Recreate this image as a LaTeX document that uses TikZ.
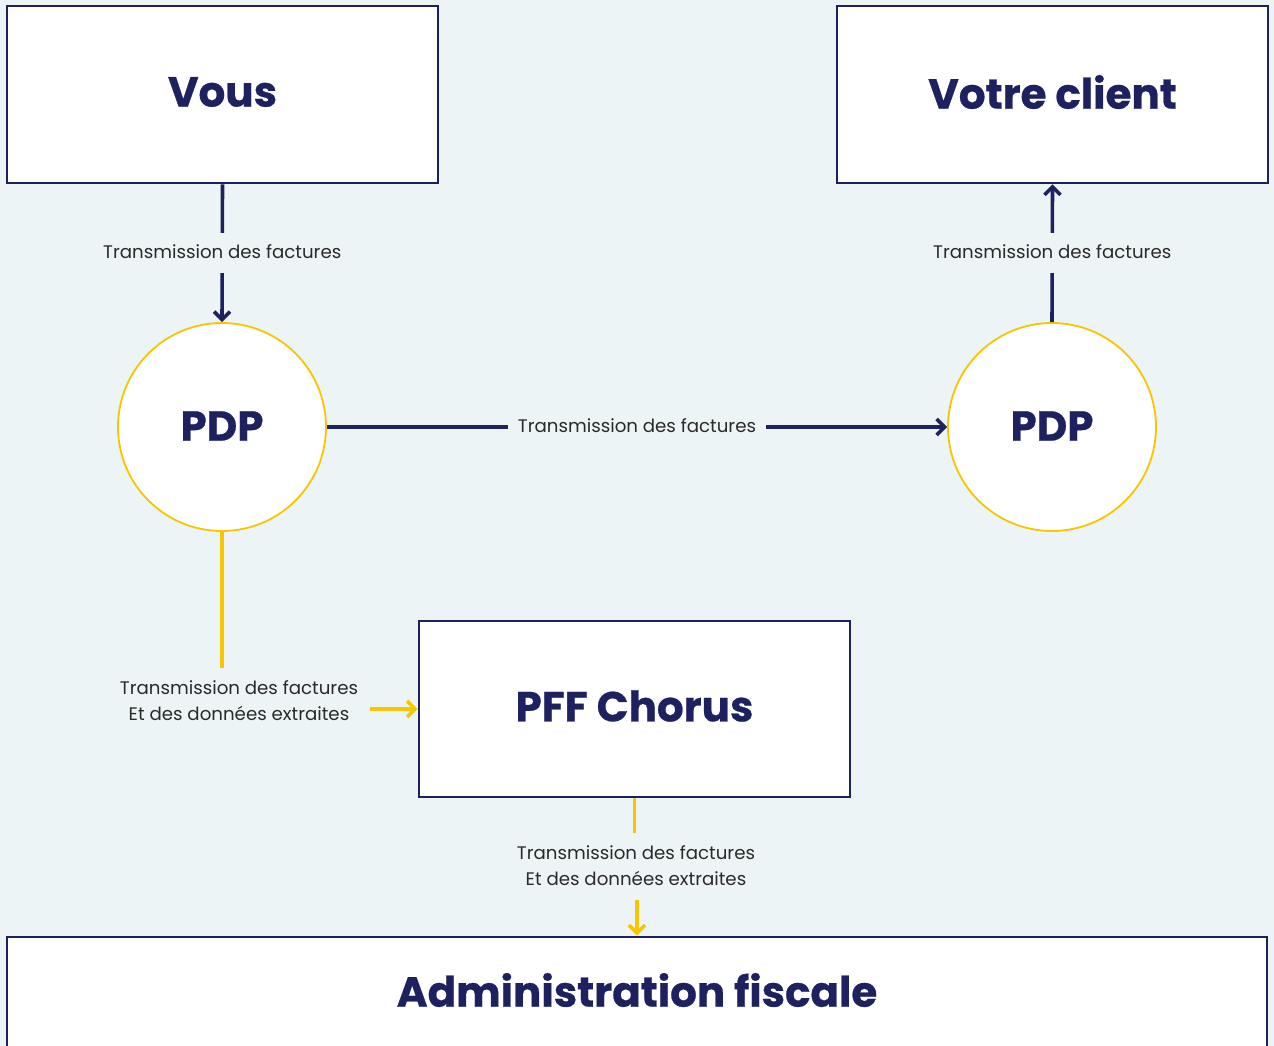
\documentclass[tikz,border=0pt]{standalone}
\usepackage{fontspec}
\setmainfont{Poppins}
\newfontfamily\ttlfont{Poppins}[BoldFeatures={FakeBold=0.6}]
\usetikzlibrary{arrows.meta}
\definecolor{bg}{HTML}{ECF4F6}
\definecolor{navy}{HTML}{1E2160}
\definecolor{gold}{HTML}{F7C600}
\definecolor{txt}{HTML}{2A2A2A}
\begin{document}
\begin{tikzpicture}[x=1pt,y=-1pt,
  box/.style={draw=navy,line width=2.7pt,fill=white,inner sep=0pt,minimum width=431pt,minimum height=177pt},
  circ/.style={circle,draw=gold,line width=1.8pt,fill=white,inner sep=0pt,minimum size=208pt},
  ttl/.style={text=navy,font=\ttlfont\fontsize{42}{46}\selectfont\bfseries},
  lbl/.style={fill=bg,text=txt,font=\fontsize{18.2}{26}\selectfont,inner xsep=10pt,inner ysep=12pt,text height=13pt,text depth=3pt},
  lbltwo/.style={text=txt,font=\fontsize{18.2}{26}\selectfont,align=center,inner sep=0pt},
  navyline/.style={draw=navy,line width=3.6pt},
  goldline/.style={draw=gold,line width=3.6pt},
  tip/.style={-{Straight Barb[length=8pt,width=16pt]}}
]
\useasboundingbox (0,0) rectangle (1274,1046);
\clip (0,0) rectangle (1274,1046);
\fill[bg] (0,0) rectangle (1274,1046);

\node[box] (vous) at (222.5,94.5) {};
\node[ttl] (vouslbl) at (222.5,92) {Vous};
\node[box] (client) at (1052.5,94.5) {};
\node[ttl] (clientlbl) at (1052.5,92) {Votre client};

\node[circ] (pdpL) at (222,427) {};
\node[ttl] (pdpLlbl) at (222,426) {PDP};
\node[circ] (pdpR) at (1052,427) {};
\node[ttl] (pdpRlbl) at (1052,426) {PDP};

\node[box,minimum height=176pt] (chorus) at (634.5,709) {};
\node[ttl] (choruslbl) at (634.5,706) {PFF Chorus};

\node[box,minimum width=1260pt,minimum height=130pt] (admin) at (637,1002) {};
\node[ttl] (adminlbl) at (637,990) {Administration fiscale};

% navy connectors
\draw[navyline,tip] (vous.south) -- node[lbl] {Transmission des factures} (pdpL.north);
\draw[navyline,tip] (pdpR.north) -- node[lbl] {Transmission des factures} (client.south);
\draw[navyline,tip] (pdpL.east) -- node[lbl] {Transmission des factures} (pdpR.west);

% gold connectors
\coordinate (yl) at (222,668);
\draw[goldline] (pdpL.south) -- (yl);
\node[lbltwo] (l3) at (239,701) {Transmission des factures\\Et des données extraites};
\coordinate (ya) at (370,709);
\draw[goldline,tip] (ya) -- (ya -| chorus.west);

\coordinate (yb) at (634.5,833);
\draw[goldline] (chorus.south) -- (yb);
\node[lbltwo] (l4) at (636,866) {Transmission des factures\\Et des données extraites};
\coordinate (yc) at (637,900);
\draw[goldline,tip] (yc) -- (yc |- admin.north);
\end{tikzpicture}
\end{document}
